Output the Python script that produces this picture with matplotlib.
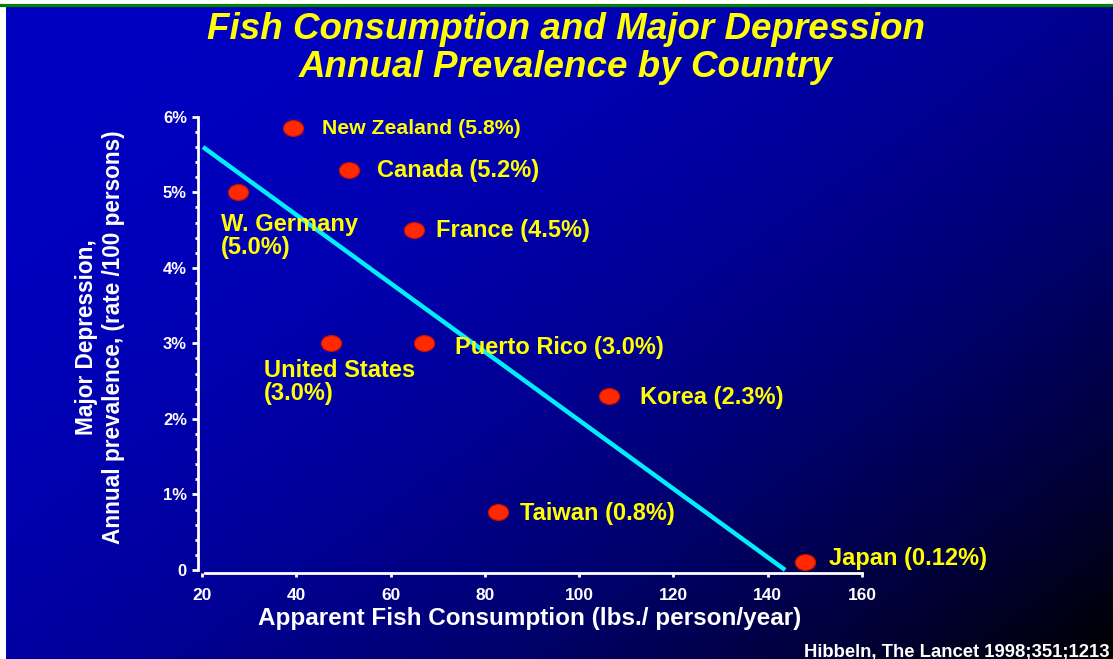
import numpy as np
import matplotlib
matplotlib.use("Agg")
import matplotlib.pyplot as plt
from matplotlib.path import Path
from matplotlib.transforms import Affine2D

W, H = 1113, 659

# data
countries = ["New Zealand (5.8%)", "Canada (5.2%)", "W. Germany\n(5.0%)", "France (4.5%)",
             "United States\n(3.0%)", "Puerto Rico (3.0%)", "Korea (2.3%)", "Taiwan (0.8%)",
             "Japan (0.12%)"]
fish = [39.3, 51.2, 27.6, 65.0, 47.4, 67.1, 106.3, 82.8, 147.9]
prevalence = [5.85, 5.3, 5.0, 4.5, 3.0, 3.0, 2.3, 0.77, 0.1]
# label offsets in pixels (dx, dy) and font sizes
label_off = [(29, 0), (28, -1), (-17, -44), (22, 0), (-67, -39), (31, -4), (31, -1), (22, -2), (24, 4)]
label_size = [15.3, 17, 17, 17, 17, 17, 17, 17, 17]

fit_x = [20.2, 143.7]
fit_y = [5.6, 0.0]

xticks = [20, 40, 60, 80, 100, 120, 140, 160]
yticks = [0, 1, 2, 3, 4, 5, 6]
ytick_labels = ["0", "1%", "2%", "3%", "4%", "5%", "6%"]

plt.rcParams['font.family'] = ['Liberation Sans', 'DejaVu Sans']

fig = plt.figure(figsize=(W / 100, H / 100), dpi=100)
fig.patch.set_facecolor("white")

# gradient background panel
bg = fig.add_axes([6 / W, 0, 1 - 6 / W, 1 - 6 / H])
bg.set_axis_off()
gx, gy = np.meshgrid(np.linspace(0, 1, 300), np.linspace(0, 1, 200))
t = np.clip((gx * 0.55 + gy * 0.45), 0, 1)
blue = 0.76 * (1 - t ** 2.2)
img = np.dstack([np.zeros_like(blue), np.zeros_like(blue), blue])
bg.imshow(img, aspect="auto", extent=[0, 1, 1, 0])
bg.set_xlim(0, 1)
bg.set_ylim(1, 0)

# green rule at the top
fig.add_artist(plt.Line2D([0, 1], [1 - 4.5 / H, 1 - 4.5 / H], color="#008000", lw=2.3))

def fx(px):
    return px / W

def fy(py):
    return 1 - py / H

left, right, top, bottom = 198, 862, 113, 573
ax = fig.add_axes([fx(left), fy(bottom), fx(right) - fx(left), fy(top) - fy(bottom)])
ax.set_facecolor("none")
ax.set_xlim(19.15, 160)
ax.set_ylim(-0.04, 6.05)

for s in ["top", "right"]:
    ax.spines[s].set_visible(False)
for s in ["left", "bottom"]:
    ax.spines[s].set_color("white")
    ax.spines[s].set_linewidth(2)
ax.spines["bottom"].set_bounds(20.6, 160)
ax.spines["left"].set_bounds(0, 6)

ax.set_xticks(xticks)
ax.set_xticklabels([str(v) for v in xticks])
ax.set_yticks(yticks)
ax.set_yticklabels(ytick_labels)
ax.set_yticks(np.arange(0, 6.01, 0.2), minor=True)
ax.tick_params(axis="y", which="major", colors="white", length=4, width=2, pad=4,
               labelsize=12)
ax.tick_params(axis="y", which="minor", colors="white", length=2, width=2)
ax.tick_params(axis="x", colors="white", length=3, width=2, pad=8, labelsize=12.5)
for lab in ax.get_xticklabels() + ax.get_yticklabels():
    lab.set_fontweight("bold")

# regression line
ax.plot(fit_x, fit_y, color="#00EEFF", lw=3.2, solid_capstyle="butt", zorder=2)

# ellipse markers
ell = Path.unit_circle().transformed(Affine2D().scale(1.27, 1.0))
ax.scatter(fish, prevalence, marker=ell, s=210, color="#FF2A00", edgecolor="#D01000",
           linewidth=0.8, zorder=3, clip_on=False)

for name, x, y, (dx, dy), fs in zip(countries, fish, prevalence, label_off, label_size):
    ax.annotate(name, (x, y), xytext=(dx, dy), textcoords="offset pixels",
                ha="left", va="center", color="#FFFF00", fontsize=fs,
                fontweight="bold", linespacing=1.0)

fig.text(fx(566), fy(48.5), "Fish Consumption and Major Depression\nAnnual Prevalence by Country",
         ha="center", va="center", color="#FFFF00", fontsize=26.5, fontweight="bold",
         fontstyle="italic", linespacing=1.08)

fig.text(fx(530), fy(619), "Apparent Fish Consumption (lbs./ person/year)", ha="center",
         va="center", color="white", fontsize=17.5, fontweight="bold")

fig.text(fx(100), fy(337), "Major Depression,\nAnnual prevalence, (rate /100 persons)",
         ha="center", va="center", rotation=90, color="white", fontsize=16.3,
         fontweight="bold", linespacing=1.22)

fig.text(fx(1110), fy(652), "Hibbeln, The Lancet 1998;351;1213", ha="right", va="center",
         color="white", fontsize=13.3, fontweight="bold")

fig.savefig("out.png", dpi=100, facecolor="white")
